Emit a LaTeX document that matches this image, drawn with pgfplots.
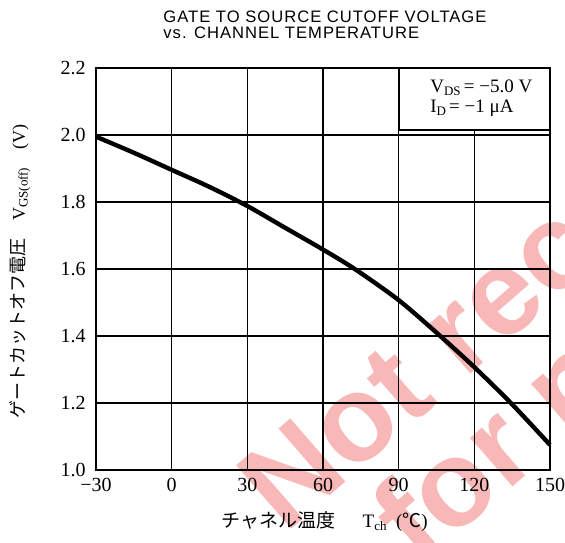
\documentclass[border=0pt]{standalone}
\usepackage{pgfplots}
\pgfplotsset{compat=1.18}
\usepackage{pgfplotstable}
\usepackage{fontspec}
\setmainfont{Liberation Serif}
\newfontfamily\titlefont{Liberation Sans}[LetterSpace=6]
\newfontfamily\wmfont{Liberation Sans}
\newfontfamily\cjk{Noto Sans CJK JP}
\definecolor{wmark}{RGB}{248,184,184}

% V_GS(off) vs. channel temperature
\pgfplotstableread{
T     V
-30   1.995
-15   1.947
0     1.896
15    1.845
30    1.788
45    1.723
60    1.658
73    1.598
90    1.507
105   1.410
120   1.307
135   1.196
150   1.075
}\vgsdata

\newcommand{\sub}[1]{\raisebox{-0.35ex}{\fontsize{6.5}{6.5}\selectfont #1}}

\begin{document}
\begin{tikzpicture}
% watermark, behind the chart (coordinates in reference pixels)
\begin{scope}[shift={(-48pt,235pt)}, x=0.5pt, y=-0.5pt]
  \node[anchor=base west, rotate=41, inner sep=0, text=wmark,
        font=\wmfont\bfseries\fontsize{61}{61}\selectfont] at (285,535) {Not recommended};
  \node[anchor=base west, rotate=41, inner sep=0, text=wmark,
        font=\wmfont\bfseries\fontsize{61}{61}\selectfont] at (419,568) {for new design};
\end{scope}

\begin{axis}[
  at={(0,0)}, anchor=south west,
  scale only axis, width=227pt, height=201pt,
  xmin=-30, xmax=150, ymin=1.0, ymax=2.2,
  xtick={-30,0,30,60,90,120,150},
  xticklabels={−30,0,30,60,90,120,150},
  ytick={1.0,1.2,1.4,1.6,1.8,2.0,2.2},
  yticklabels={1.0,1.2,1.4,1.6,1.8,2.0,2.2},
  grid=major,
  major grid style={black, line width=0.8pt},
  major tick length=0pt,
  axis line style={line width=1.3pt},
  tick label style={font=\fontsize{10}{10}\selectfont},
  xticklabel style={anchor=center, inner sep=0pt, yshift=-7.5pt},
  yticklabel style={anchor=east, inner sep=0pt, xshift=-5pt},
  xlabel={{\cjk チャネル温度}\quad\, T\sub{ch}\enspace({\cjk ℃})},
  xlabel style={at={(axis description cs:0.504,-0.129)}, anchor=center,
                inner sep=0pt, font=\fontsize{9.5}{9.5}\selectfont},
  ylabel={{\cjk ゲートカットオフ電圧}\quad V\sub{GS(off)}\quad(V)},
  ylabel style={at={(axis description cs:-0.167,0.493)}, anchor=center,
                inner sep=0pt, font=\fontsize{9}{9}\selectfont},
  clip=false,
]
\addplot[black, line width=2.2pt, smooth] table[x=T, y=V] {\vgsdata};

\draw[fill=white, line width=0.9pt] (axis cs:90,2.015) rectangle (axis cs:150,2.2);
\node[anchor=west, inner sep=0pt, font=\fontsize{9.5}{9.5}\selectfont]
  at (axis cs:102.4,2.140) {V\sub{DS}\,= −5.0 V};
\node[anchor=west, inner sep=0pt, font=\fontsize{9.5}{9.5}\selectfont]
  at (axis cs:102.4,2.081) {I\sub{D}\,= −1 μA};

\node[anchor=north west, inner sep=0pt, align=left,
      font=\titlefont\fontsize{8.3}{7.6}\selectfont]
  at (axis description cs:0.1476,1.142) {GATE TO SOURCE CUTOFF VOLTAGE\\vs. CHANNEL TEMPERATURE};
\end{axis}

\pgfresetboundingbox
\useasboundingbox (-48pt,-36pt) rectangle (234.5pt,235pt);
\end{tikzpicture}
\end{document}
